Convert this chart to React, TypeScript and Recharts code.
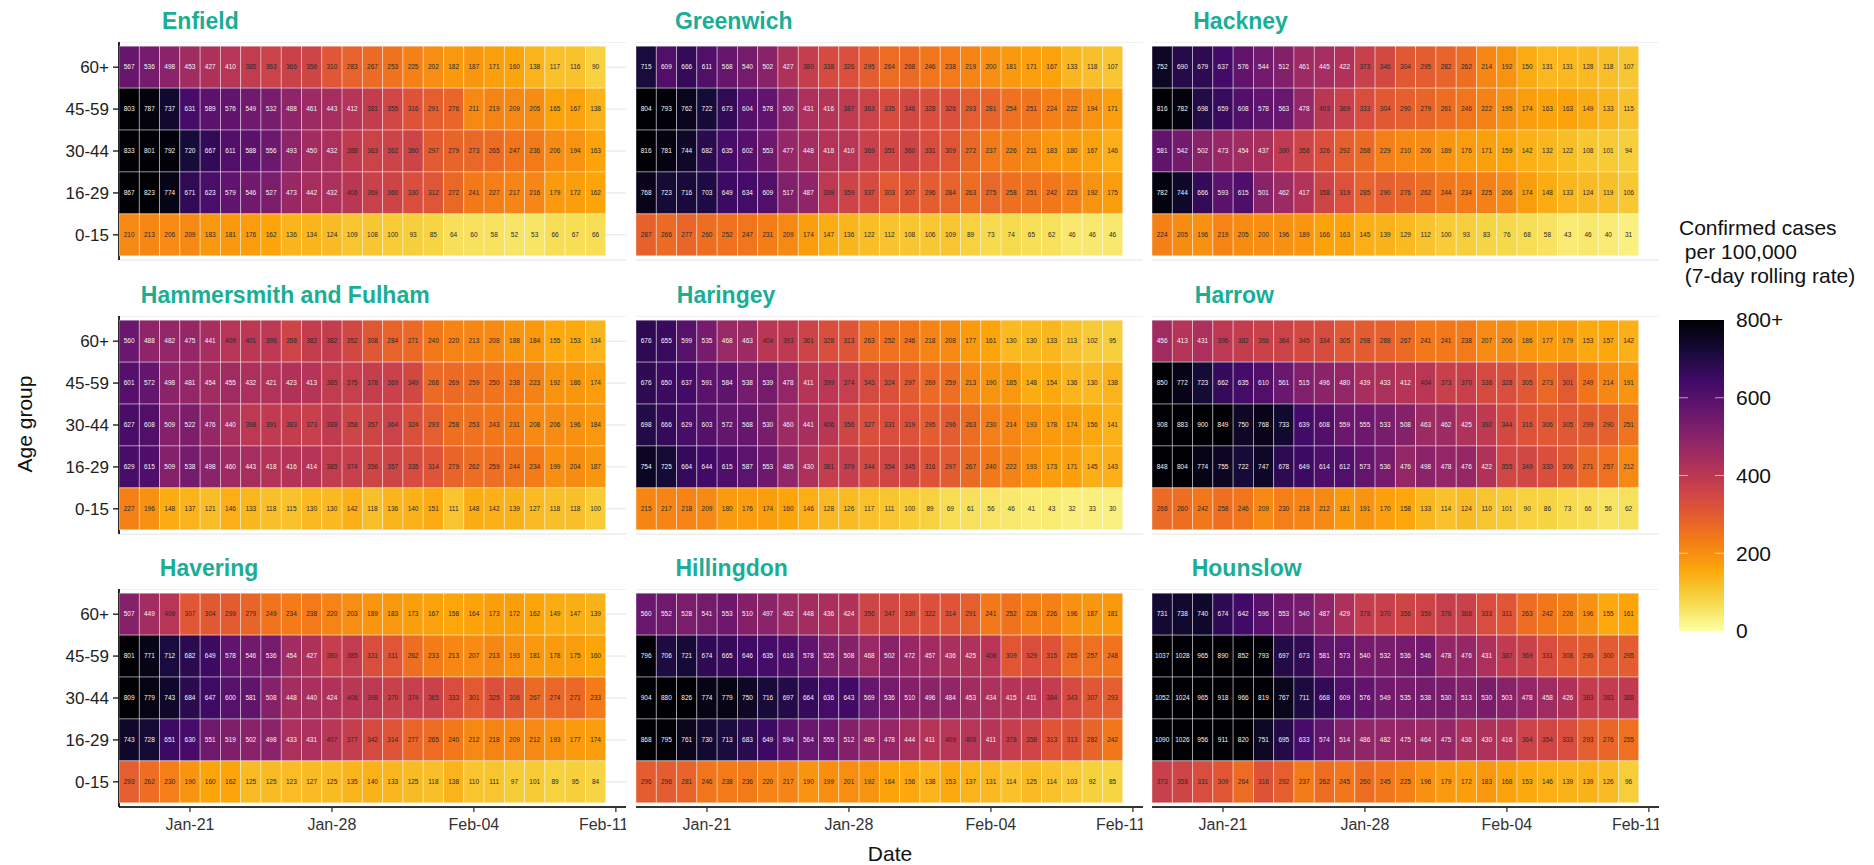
import React from 'react';
import { ScatterChart, Scatter, XAxis, YAxis, CartesianGrid } from 'recharts';

// --- data -----------------------------------------------------------------
const dates = [
  '2021-01-18', '2021-01-19', '2021-01-20', '2021-01-21', '2021-01-22', '2021-01-23',
  '2021-01-24', '2021-01-25', '2021-01-26', '2021-01-27', '2021-01-28', '2021-01-29',
  '2021-01-30', '2021-01-31', '2021-02-01', '2021-02-02', '2021-02-03', '2021-02-04',
  '2021-02-05', '2021-02-06', '2021-02-07', '2021-02-08', '2021-02-09', '2021-02-10',
];
const ageGroups = ['60+', '45-59', '30-44', '16-29', '0-15'];
const dateTicks = [3, 10, 17, 24];
const dateTickLabels = ['Jan-21', 'Jan-28', 'Feb-04', 'Feb-11'];
const legendTicks = [800, 600, 400, 200, 0];
const legendTickLabels = ['800+', '600', '400', '200', '0'];

// rows in ageGroups order (60+ first)
const enfield = [
  [567, 536, 498, 453, 427, 410, 385, 363, 366, 356, 310, 283, 267, 253, 225, 202, 182, 187, 171, 160, 138, 117, 116, 90],
  [803, 787, 737, 631, 589, 576, 549, 532, 488, 461, 443, 412, 381, 355, 316, 291, 276, 211, 219, 209, 205, 165, 167, 138],
  [833, 801, 792, 720, 667, 611, 588, 556, 493, 450, 432, 388, 363, 362, 360, 297, 279, 273, 265, 247, 236, 206, 194, 163],
  [867, 823, 774, 671, 623, 579, 546, 527, 473, 442, 432, 406, 369, 360, 330, 312, 272, 241, 227, 217, 216, 179, 172, 162],
  [210, 213, 206, 209, 183, 181, 176, 162, 136, 134, 124, 109, 108, 100, 93, 85, 64, 60, 58, 52, 53, 66, 67, 66],
];
const greenwich = [
  [715, 609, 666, 611, 568, 540, 502, 427, 380, 338, 326, 295, 264, 268, 246, 238, 219, 200, 181, 171, 167, 133, 118, 107],
  [804, 793, 762, 722, 673, 604, 578, 500, 431, 416, 387, 363, 335, 346, 328, 326, 293, 281, 254, 251, 224, 222, 194, 171],
  [816, 781, 744, 682, 635, 602, 553, 477, 448, 418, 410, 369, 351, 360, 331, 309, 272, 237, 226, 211, 183, 180, 167, 146],
  [768, 723, 716, 703, 649, 634, 609, 517, 487, 398, 359, 337, 303, 307, 296, 284, 263, 275, 258, 251, 242, 223, 192, 175],
  [287, 266, 277, 260, 252, 247, 231, 209, 174, 147, 136, 122, 112, 108, 106, 109, 89, 73, 74, 65, 62, 46, 46, 46],
];
const hackney = [
  [752, 690, 679, 637, 576, 544, 512, 461, 445, 422, 373, 346, 304, 295, 282, 262, 214, 192, 150, 131, 131, 128, 118, 107],
  [816, 782, 698, 659, 608, 578, 563, 478, 403, 369, 333, 304, 290, 279, 261, 246, 222, 195, 174, 163, 163, 149, 133, 115],
  [581, 542, 502, 473, 454, 437, 390, 358, 326, 292, 268, 229, 210, 206, 189, 176, 171, 159, 142, 132, 122, 108, 101, 94],
  [782, 744, 666, 593, 615, 501, 462, 417, 358, 319, 285, 290, 276, 262, 244, 234, 225, 206, 174, 148, 133, 124, 119, 106],
  [224, 205, 196, 219, 205, 200, 196, 189, 166, 163, 145, 139, 129, 112, 100, 93, 83, 76, 68, 58, 43, 46, 40, 31],
];
const hammersmith = [
  [560, 488, 482, 475, 441, 409, 401, 398, 358, 382, 382, 352, 308, 284, 271, 240, 220, 213, 208, 188, 184, 155, 153, 134],
  [601, 572, 498, 481, 454, 455, 432, 421, 423, 413, 385, 375, 378, 369, 349, 268, 269, 259, 250, 238, 223, 192, 186, 174],
  [627, 608, 509, 522, 476, 440, 398, 391, 383, 373, 388, 358, 357, 364, 324, 293, 258, 253, 243, 231, 208, 206, 196, 184],
  [629, 615, 509, 538, 498, 460, 443, 418, 416, 414, 385, 374, 356, 357, 335, 314, 279, 262, 259, 244, 234, 199, 204, 187],
  [227, 196, 148, 137, 121, 146, 133, 118, 115, 130, 130, 142, 118, 136, 140, 151, 111, 148, 142, 139, 127, 118, 118, 100],
];
const haringey = [
  [676, 655, 599, 535, 468, 463, 404, 393, 361, 328, 313, 263, 252, 246, 218, 208, 177, 161, 130, 130, 133, 113, 102, 95],
  [676, 650, 637, 591, 584, 538, 539, 478, 411, 399, 374, 343, 324, 297, 269, 259, 213, 190, 185, 148, 154, 136, 130, 138],
  [698, 666, 629, 603, 572, 568, 530, 460, 441, 406, 356, 327, 331, 319, 295, 296, 263, 230, 214, 193, 178, 174, 156, 141],
  [754, 725, 664, 644, 615, 587, 553, 485, 430, 381, 379, 344, 354, 345, 316, 297, 267, 240, 222, 193, 173, 171, 145, 143],
  [215, 217, 218, 209, 180, 176, 174, 160, 146, 128, 126, 117, 111, 100, 89, 69, 61, 56, 46, 41, 43, 32, 33, 30],
];
const harrow = [
  [456, 413, 431, 396, 382, 366, 364, 345, 334, 305, 298, 288, 267, 241, 241, 238, 207, 206, 186, 177, 179, 153, 157, 142],
  [850, 772, 723, 662, 635, 610, 561, 515, 496, 480, 439, 433, 412, 404, 373, 370, 338, 328, 305, 273, 301, 249, 214, 191],
  [908, 883, 900, 849, 750, 768, 733, 639, 608, 559, 555, 533, 508, 463, 462, 425, 392, 344, 316, 306, 305, 299, 290, 251],
  [848, 804, 774, 755, 722, 747, 678, 649, 614, 612, 573, 536, 476, 498, 478, 476, 422, 355, 349, 330, 306, 271, 257, 212],
  [268, 260, 242, 258, 246, 209, 230, 218, 212, 181, 191, 170, 158, 133, 114, 124, 110, 101, 90, 86, 73, 66, 56, 62],
];
const havering = [
  [507, 449, 409, 307, 304, 299, 279, 249, 234, 238, 220, 203, 189, 183, 173, 167, 158, 164, 173, 172, 162, 149, 147, 139],
  [801, 771, 712, 682, 649, 578, 546, 536, 454, 427, 380, 385, 331, 311, 262, 233, 213, 207, 213, 193, 181, 178, 175, 160],
  [809, 779, 743, 684, 647, 600, 581, 508, 448, 440, 424, 406, 398, 370, 374, 365, 333, 301, 325, 306, 267, 274, 271, 233],
  [743, 728, 651, 630, 551, 519, 502, 498, 433, 431, 407, 377, 342, 314, 277, 265, 240, 212, 218, 209, 212, 193, 177, 174],
  [293, 262, 230, 190, 160, 162, 125, 125, 123, 127, 125, 135, 140, 133, 125, 118, 138, 110, 111, 97, 101, 89, 95, 84],
];
const hillingdon = [
  [560, 552, 528, 541, 553, 510, 497, 462, 448, 436, 424, 356, 347, 330, 322, 314, 291, 241, 252, 228, 226, 196, 187, 181],
  [796, 706, 721, 674, 665, 646, 635, 618, 578, 525, 508, 468, 502, 472, 457, 436, 425, 408, 309, 329, 315, 265, 257, 248],
  [904, 880, 826, 774, 779, 750, 716, 697, 664, 636, 643, 569, 536, 510, 496, 484, 453, 434, 415, 411, 384, 343, 307, 293],
  [868, 795, 761, 730, 713, 683, 649, 594, 564, 555, 512, 485, 478, 444, 411, 409, 409, 411, 378, 358, 313, 313, 282, 242],
  [296, 296, 281, 246, 238, 236, 220, 217, 190, 199, 201, 192, 164, 156, 138, 153, 137, 131, 114, 125, 114, 103, 92, 85],
];
const hounslow = [
  [731, 738, 740, 674, 642, 596, 553, 540, 487, 429, 378, 370, 356, 359, 376, 368, 333, 311, 263, 242, 226, 196, 155, 161],
  [1037, 1028, 965, 890, 852, 793, 697, 673, 581, 573, 540, 532, 536, 546, 478, 476, 431, 387, 369, 331, 308, 296, 300, 295],
  [1052, 1024, 965, 918, 966, 819, 767, 711, 668, 609, 576, 549, 535, 538, 530, 513, 530, 503, 478, 458, 426, 383, 383, 388],
  [1090, 1026, 956, 911, 820, 751, 695, 633, 574, 514, 486, 482, 475, 464, 475, 436, 430, 416, 364, 354, 333, 293, 276, 255],
  [373, 358, 331, 309, 264, 316, 292, 237, 262, 245, 260, 245, 225, 196, 179, 172, 183, 168, 153, 146, 139, 139, 126, 96],
];

const panels = [
  { name: 'Enfield', values: enfield },
  { name: 'Greenwich', values: greenwich },
  { name: 'Hackney', values: hackney },
  { name: 'Hammersmith and Fulham', values: hammersmith },
  { name: 'Haringey', values: haringey },
  { name: 'Harrow', values: harrow },
  { name: 'Havering', values: havering },
  { name: 'Hillingdon', values: hillingdon },
  { name: 'Hounslow', values: hounslow },
];

// --- layout / style --------------------------------------------------------
const FONT = '"Liberation Sans", Arial, Helvetica, sans-serif';
const TEAL = '#1aae96';
const COL_LEFT = [119, 636, 1152];
const ROW_TOP = [42, 316, 589];
const PW = 507;
const PH = 218;
const YW = 100;
const XH = 50;
const X_DOMAIN: [number, number] = [-0.5, 24.5];
const Y_DOMAIN: [number, number] = [-0.6, 4.6];
const CW = PW / (X_DOMAIN[1] - X_DOMAIN[0]);
const CH = PH / (Y_DOMAIN[1] - Y_DOMAIN[0]);
const CAP = 800;

// inferno, reversed (0 -> pale yellow, 800+ -> black)
const INFERNO = ['#000004', '#160b39', '#420a68', '#6a176e', '#932667', '#bc3754', '#dd513a', '#f37819', '#fca50a', '#f6d746', '#fcffa4'];

const hex = (c: string) => [1, 3, 5].map(i => parseInt(c.slice(i, i + 2), 16));
const fillFor = (v: number) => {
  const t = 1 - Math.min(v, CAP) / CAP;
  const p = t * (INFERNO.length - 1);
  const i = Math.min(Math.floor(p), INFERNO.length - 2);
  const f = p - i;
  const a = hex(INFERNO[i]);
  const b = hex(INFERNO[i + 1]);
  const m = a.map((x, k) => Math.round(x + (b[k] - x) * f));
  return `rgb(${m[0]},${m[1]},${m[2]})`;
};

const measure = (text: string, font: string) => {
  const ctx = document.createElement('canvas').getContext('2d');
  if (!ctx) return text.length * 12;
  ctx.font = font;
  return ctx.measureText(text).width;
};

const TileShape = (props: any) => {
  const { cx, cy, payload } = props;
  if (cx == null || cy == null) return null;
  const v = payload.v;
  return (
    <g>
      <rect x={cx - CW / 2} y={cy - CH / 2} width={CW} height={CH} fill={fillFor(v)}
        stroke="#ffffff" strokeOpacity={0.5} strokeWidth={0.8} />
      <text x={cx} y={cy} dy="0.35em" textAnchor="middle" fontSize={6.5} fontFamily={FONT}
        fill={v >= 410 ? '#f4f4f4' : '#2a2a2a'}>{v}</text>
    </g>
  );
};

const Panel = ({ values, col, row }: { values: number[][]; col: number; row: number }) => {
  const data = values.flatMap((r, ri) => r.map((v, d) => ({ x: d, y: ageGroups.length - 1 - ri, v, date: dates[d] })));
  const showY = col === 0;
  const showX = row === 2;
  return (
    <div style={{ position: 'absolute', left: COL_LEFT[col] - YW, top: ROW_TOP[row] }}>
      <ScatterChart width={YW + PW} height={PH + XH} margin={{ top: 0, right: 0, bottom: 0, left: 0 }}>
        <CartesianGrid vertical={false} stroke="#e3e3e3" strokeWidth={1} />
        <XAxis type="number" dataKey="x" domain={X_DOMAIN} ticks={dateTicks} allowDataOverflow
          height={XH}
          tickFormatter={(t: number) => dateTickLabels[dateTicks.indexOf(t)] ?? ''}
          axisLine={showX ? { stroke: '#333', strokeWidth: 1.8 } : false}
          tickLine={showX ? { stroke: '#333', strokeWidth: 1.3 } : false}
          tickSize={5} tickMargin={7}
          tick={showX ? { fontSize: 16, fill: '#333', fontFamily: FONT } : false} />
        <YAxis type="number" dataKey="y" domain={Y_DOMAIN} ticks={[0, 1, 2, 3, 4]} allowDataOverflow
          width={YW}
          tickFormatter={(t: number) => ageGroups[ageGroups.length - 1 - t]}
          axisLine={showY ? { stroke: '#111', strokeWidth: 1.8 } : false}
          tickLine={showY ? { stroke: '#111', strokeWidth: 1.3 } : false}
          tickSize={6} tickMargin={4}
          tick={showY ? { fontSize: 17, fill: '#222', fontFamily: FONT } : false} />
        <Scatter data={data} shape={TileShape} isAnimationActive={false} />
      </ScatterChart>
    </div>
  );
};

const LEG_X = 1679;
const LEG_TOP = 320;
const LEG_H = 311;
const LEG_W = 45;

const Overlay = () => {
  const titleFont = `bold 23px ${FONT}`;
  return (
    <svg width={1874} height={865} style={{ position: 'absolute', left: 0, top: 0, pointerEvents: 'none' }}>
      <defs>
        <linearGradient id="infernoBar" x1="0" y1="0" x2="0" y2="1">
          {INFERNO.map((c, i) => (
            <stop key={c} offset={`${(i / (INFERNO.length - 1)) * 100}%`} stopColor={c} />
          ))}
        </linearGradient>
      </defs>
      {panels.map((p, i) => {
        const col = i % 3;
        const row = Math.floor(i / 3);
        const w = measure(p.name, titleFont);
        return (
          <text key={p.name} x={COL_LEFT[col] + 0.1 * (PW - w)} y={ROW_TOP[row] - 13}
            fontSize={23} fontWeight="bold" fontFamily={FONT} fill={TEAL}>{p.name}</text>
        );
      })}
      <text x={890} y={861} textAnchor="middle" fontSize={21} fontFamily={FONT} fill="#111">Date</text>
      <text transform="translate(32,424) rotate(-90)" textAnchor="middle" fontSize={21} fontFamily={FONT} fill="#111">Age group</text>

      <text fontSize={21} fontFamily={FONT} fill="#111">
        <tspan x={LEG_X} y={235}>Confirmed cases</tspan>
        <tspan x={LEG_X} y={259}>{'\u00a0per 100,000'}</tspan>
        <tspan x={LEG_X} y={283}>{'\u00a0(7-day rolling rate)'}</tspan>
      </text>
      <rect x={LEG_X} y={LEG_TOP} width={LEG_W} height={LEG_H} fill="url(#infernoBar)" />
      {legendTicks.map((t, i) => {
        const y = LEG_TOP + (1 - t / CAP) * LEG_H;
        return (
          <g key={t}>
            {t > 0 && t < CAP && (
              <>
                <line x1={LEG_X} x2={LEG_X + 9} y1={y} y2={y} stroke="#fff" strokeOpacity={0.6} />
                <line x1={LEG_X + LEG_W - 9} x2={LEG_X + LEG_W} y1={y} y2={y} stroke="#fff" strokeOpacity={0.6} />
              </>
            )}
            <text x={LEG_X + LEG_W + 12} y={y} dy="0.35em" fontSize={21} fontFamily={FONT} fill="#111">{legendTickLabels[i]}</text>
          </g>
        );
      })}
    </svg>
  );
};

export default function App() {
  return (
    <div style={{ position: 'absolute', left: 0, top: 0, width: 1874, height: 865, background: '#fff', fontFamily: FONT, overflow: 'hidden' }}>
      {panels.map((p, i) => (
        <Panel key={p.name} values={p.values} col={i % 3} row={Math.floor(i / 3)} />
      ))}
      <Overlay />
    </div>
  );
}
